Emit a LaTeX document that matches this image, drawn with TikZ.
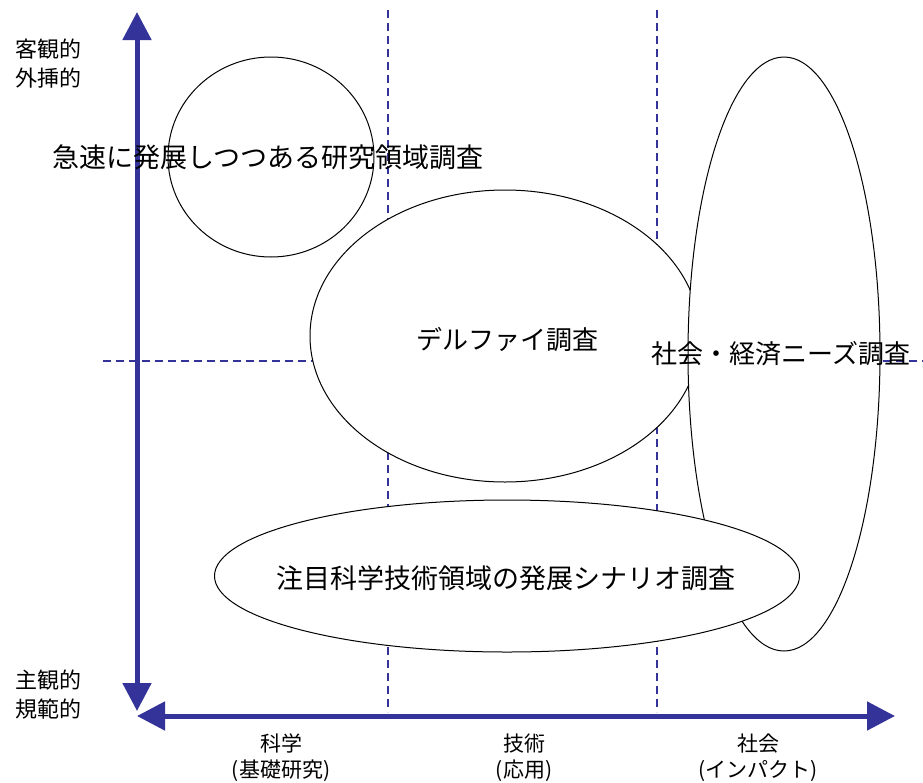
\documentclass[tikz,border=0pt]{standalone}
\usepackage{fontspec}
\setmainfont{Noto Sans CJK JP}
\usetikzlibrary{arrows.meta,shapes.geometric}
\definecolor{axisblue}{HTML}{333399}
\begin{document}
\begin{tikzpicture}[x=1pt,y=-1pt,
  axis/.style={line width=5pt, draw=axisblue, -{Triangle[width=28pt,length=28pt,fill=axisblue]}},
  guide/.style={line width=2.6pt, draw=axisblue, dash pattern=on 8pt off 5pt},
  region/.style={ellipse, draw=black, line width=1pt, fill=white, inner sep=0pt},
  lbl/.style={inner sep=0pt, font=\fontsize{26}{28}\selectfont},
  axlbl/.style={inner sep=0pt, align=center, font=\fontsize{21}{26}\selectfont},
  sidelbl/.style={inner sep=0pt, align=left, font=\fontsize{22}{29}\selectfont}]
\useasboundingbox (0,0) rectangle (923,782);
% guide line end points
\coordinate (g1t) at (388,10);
\coordinate (g1b) at (388,712);
\coordinate (g2t) at (657,10);
\coordinate (g2b) at (657,712);
\coordinate (hl) at (103,361);
\coordinate (hr) at (923,361);
\draw[guide] (g1t) -- (g1b);
\draw[guide] (g2t) -- (g2b);
\draw[guide] (hl) -- (hr);
% axes
\coordinate (ytop) at (137,12);
\coordinate (ybot) at (137,711);
\coordinate (ymid) at (137,400);
\coordinate (xright) at (895,716);
\coordinate (xleft) at (137,716);
\coordinate (xmid) at (500,716);
\draw[axis] (ymid) -- (ytop);
\draw[axis] (ymid) -- (ybot);
\draw[axis] (xmid) -- (xright);
\draw[axis] (xmid) -- (xleft);
% regions
\node[region, minimum width=390pt, minimum height=292pt] (delphi) at (505,336) {};
\node[region, minimum width=192pt, minimum height=594pt] (social) at (784,354) {};
\node[region, minimum width=585pt, minimum height=152pt] (scenario) at (507,576) {};
\node[region, minimum width=206pt, minimum height=200pt] (rapid) at (271,157) {};
% labels
\node[lbl, font=\fontsize{27}{28}\selectfont] (rapidt) at (268,157) {急速に発展しつつある研究領域調査};
\node[lbl] (delphit) at (507,340) {デルファイ調査};
\node[lbl] (socialt) at (781,354) {社会・経済ニーズ調査};
\node[lbl, font=\fontsize{27}{28}\selectfont] (scenariot) at (506,578) {注目科学技術領域の発展シナリオ調査};
% axis labels
\node[sidelbl] (objective) at (48,64) {客観的\\外挿的};
\node[sidelbl] (subjective) at (48,695) {主観的\\規範的};
\node[axlbl] (science) at (281,758) {科学\\(基礎研究)};
\node[axlbl] (tech) at (524,758) {技術\\(応用)};
\node[axlbl] (society) at (758,758) {社会\\(インパクト)};
\end{tikzpicture}
\end{document}
